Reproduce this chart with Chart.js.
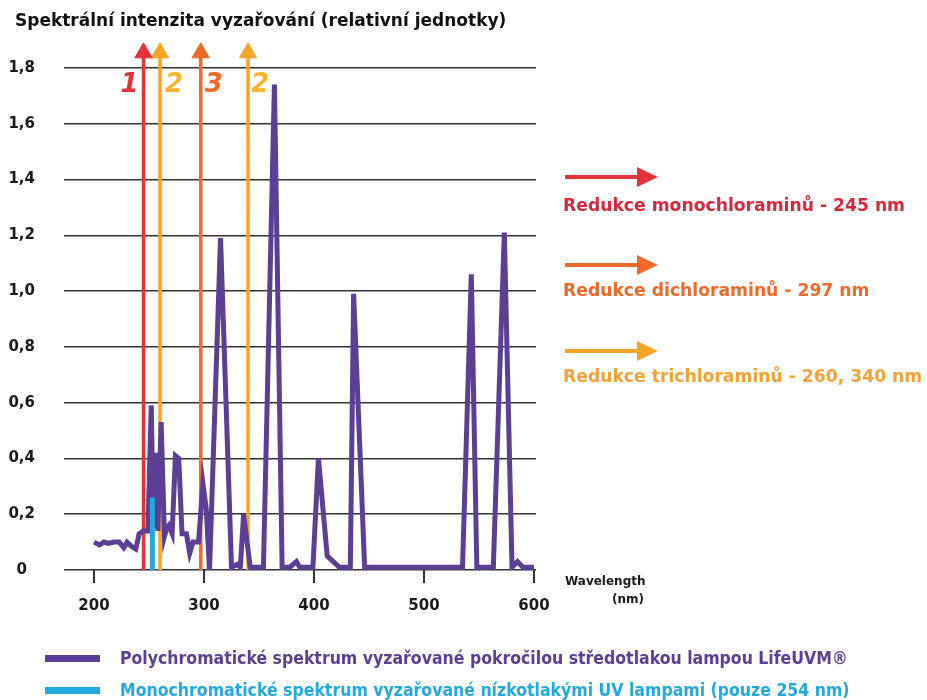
<!DOCTYPE html>
<html lang="cs">
<head>
<meta charset="utf-8">
<title>Spektrální intenzita vyzařování</title>
<script src="https://cdn.jsdelivr.net/npm/chart.js@4.4.1/dist/chart.umd.min.js"></script>
<style>
  html, body { margin: 0; padding: 0; background: #fff; }
  #wrap { position: relative; width: 927px; height: 700px; }
  #legend {
    position: absolute; left: 45px; top: 642px;
    font-family: "DejaVu Sans Condensed", sans-serif;
    font-weight: bold; font-size: 17.5px;
  }
  #legend div { display: flex; align-items: center; height: 32px; }
  #legend span.box { display: inline-block; width: 55px; height: 7px; margin-right: 20px; }
</style>
</head>
<body>
<div id="wrap">
  <canvas id="spectrumChart"></canvas>
  <div id="legend"></div>
</div>
<script>
// --------------------
// Data
// --------------------
const wavelengths = [
  200, 205, 209, 213, 218, 223, 227, 230, 234, 238, 241, 245, 249, 252, 254, 256,
  258, 261, 264, 266, 268, 271, 274, 277, 280, 284, 287, 290, 295, 299, 302, 305,
  315, 325, 330, 333, 336, 342, 354, 364, 371, 378, 384, 387, 399, 404, 412, 423,
  433, 436, 446, 535, 543, 548, 563, 573, 580, 585, 590, 600
];
const intensity = [
  0.10, 0.09, 0.10, 0.095, 0.10, 0.10, 0.08, 0.10, 0.085, 0.075, 0.13, 0.14, 0.14, 0.59, 0.15, 0.42,
  0.14, 0.53, 0.12, 0.15, 0.16, 0.13, 0.41, 0.40, 0.13, 0.13, 0.06, 0.10, 0.10, 0.31, 0.22, 0.00,
  1.19, 0.01, 0.02, 0.01, 0.20, 0.01, 0.01, 1.74, 0.01, 0.01, 0.03, 0.01, 0.01, 0.40, 0.05, 0.01,
  0.01, 0.99, 0.01, 0.01, 1.06, 0.01, 0.01, 1.21, 0.01, 0.03, 0.01, 0.01
];

const monoWavelength = 253;
const monoIntensity = 0.26;

const arrowWavelengths = [245, 260, 297, 340];
const arrowNumbers = ['1', '2', '3', '2'];
const arrowTop = 1.854;

const reductions = [
  'Redukce monochloraminů - 245 nm',
  'Redukce dichloraminů - 297 nm',
  'Redukce trichloraminů - 260, 340 nm'
];

const xTicks = [200, 300, 400, 500, 600];
const yTicks = [0, 0.2, 0.4, 0.6, 0.8, 1.0, 1.2, 1.4, 1.6, 1.8];

const seriesLabels = [
  'Polychromatické spektrum vyzařované pokročilou středotlakou lampou LifeUVM®',
  'Monochromatické spektrum vyzařované nízkotlakými UV lampami (pouze 254 nm)'
];

const chartTitle = 'Spektrální intenzita vyzařování (relativní jednotky)';

// --------------------
// Styles
// --------------------
const PURPLE = '#5b3f95';
const CYAN = '#22a9de';
const RED = '#e2323a';
const ORANGE = '#ee6a2b';
const YELLOW = '#f5a426';

const arrowColors = [RED, YELLOW, ORANGE, YELLOW];
const numberColors = [RED, '#f6b42a', ORANGE, '#f6b42a'];
const numberOffsets = [-14, 14, 13, 12];
const reductionColors = ['#d9283a', ORANGE, '#f4a235'];
const reductionArrowColors = [RED, ORANGE, YELLOW];

// --------------------
// Datasets
// --------------------
const spectrumData = wavelengths.map((w, i) => ({ x: w, y: intensity[i] }));

const arrowDatasets = arrowWavelengths.map((w, i) => ({
  data: [{ x: w, y: 0 }, { x: w, y: arrowTop }],
  borderColor: arrowColors[i],
  borderWidth: 3.5,
  pointRadius: [0, 10],
  pointStyle: 'triangle',
  pointBackgroundColor: arrowColors[i],
  pointBorderColor: arrowColors[i],
  pointBorderWidth: 1,
  order: 2
}));

// --------------------
// Plugins
// --------------------
const annotations = {
  id: 'annotations',
  afterDraw(chart) {
    const ctx = chart.ctx;
    const xs = chart.scales.x;
    ctx.save();

    // title
    ctx.font = 'bold 17px "DejaVu Sans"';
    ctx.fillStyle = '#111';
    ctx.textAlign = 'left';
    ctx.textBaseline = 'middle';
    ctx.fillText(chartTitle, 15, 22);

    // numbers next to the vertical arrows
    ctx.font = 'italic bold 26px "DejaVu Sans"';
    ctx.textAlign = 'center';
    arrowWavelengths.forEach((w, i) => {
      ctx.fillStyle = numberColors[i];
      ctx.fillText(arrowNumbers[i], xs.getPixelForValue(w) + numberOffsets[i], 85);
    });

    // axis title
    ctx.font = 'bold 12px "DejaVu Sans"';
    ctx.fillStyle = '#1a1a1a';
    ctx.textAlign = 'left';
    ctx.fillText('Wavelength', 565, 582);
    ctx.fillText('(nm)', 612, 600);

    // reductions on the right
    const arrowY = [177, 265, 351];
    const textY = [207, 292, 378];
    reductions.forEach((txt, i) => {
      const c = reductionArrowColors[i];
      const y = arrowY[i];
      ctx.strokeStyle = c;
      ctx.fillStyle = c;
      ctx.lineWidth = 4;
      ctx.beginPath();
      ctx.moveTo(565, y);
      ctx.lineTo(640, y);
      ctx.stroke();
      ctx.beginPath();
      ctx.moveTo(637, y - 10);
      ctx.lineTo(658, y);
      ctx.lineTo(637, y + 10);
      ctx.closePath();
      ctx.fill();

      ctx.font = 'bold 17.2px "DejaVu Sans"';
      ctx.fillStyle = reductionColors[i];
      ctx.fillText(txt, 563, textY[i]);
    });

    ctx.restore();
  }
};

const htmlLegend = {
  id: 'htmlLegend',
  afterUpdate(chart) {
    const box = document.getElementById('legend');
    box.innerHTML = '';
    chart.data.datasets.filter(d => d.label).forEach(d => {
      const row = document.createElement('div');
      row.style.color = d.borderColor;
      const sw = document.createElement('span');
      sw.className = 'box';
      sw.style.background = d.borderColor;
      row.appendChild(sw);
      row.appendChild(document.createTextNode(d.label));
      box.appendChild(row);
    });
  }
};

// --------------------
// Chart
// --------------------
new Chart(document.getElementById('spectrumChart'), {
  type: 'line',
  data: {
    datasets: [
      {
        label: seriesLabels[0],
        data: spectrumData,
        borderColor: PURPLE,
        borderWidth: 5,
        pointRadius: 0,
        tension: 0,
        order: 1
      },
      {
        label: seriesLabels[1],
        data: [{ x: monoWavelength, y: 0 }, { x: monoWavelength, y: monoIntensity }],
        borderColor: CYAN,
        borderWidth: 5,
        borderCapStyle: 'butt',
        pointRadius: 0,
        order: 0
      },
      ...arrowDatasets
    ]
  },
  options: {
    responsive: true,
    maintainAspectRatio: false,
    animation: false,
    events: [],
    layout: { padding: { left: 0, right: 391, top: 40, bottom: 70 } },
    plugins: {
      legend: { display: false },
      tooltip: { enabled: false },
      title: { display: false }
    },
    scales: {
      x: {
        type: 'linear',
        min: 172.7,
        max: 601.8,
        afterBuildTicks: s => { s.ticks = xTicks.map(v => ({ value: v })); },
        afterFit: s => { s.height = 60; },
        grid: { drawOnChartArea: false, drawTicks: true, tickLength: 13, color: '#333', lineWidth: 2 },
        border: { display: false },
        ticks: {
          padding: 14,
          color: '#1a1a1a',
          maxRotation: 0,
          autoSkip: false,
          font: { family: 'DejaVu Sans', weight: 'bold', size: 15 }
        }
      },
      y: {
        min: 0,
        max: 1.9,
        afterBuildTicks: s => { s.ticks = yTicks.map(v => ({ value: v })); },
        afterFit: s => { s.width = 64; },
        grid: { drawTicks: false, color: '#333', lineWidth: 1.5 },
        border: { display: false },
        ticks: {
          crossAlign: 'center',
          padding: 29,
          color: '#1a1a1a',
          font: { family: 'DejaVu Sans', weight: 'bold', size: 15 },
          callback: v => (v === 0 ? '0' : v.toFixed(1).replace('.', ','))
        }
      }
    }
  },
  plugins: [annotations, htmlLegend]
});
</script>
</body>
</html>
